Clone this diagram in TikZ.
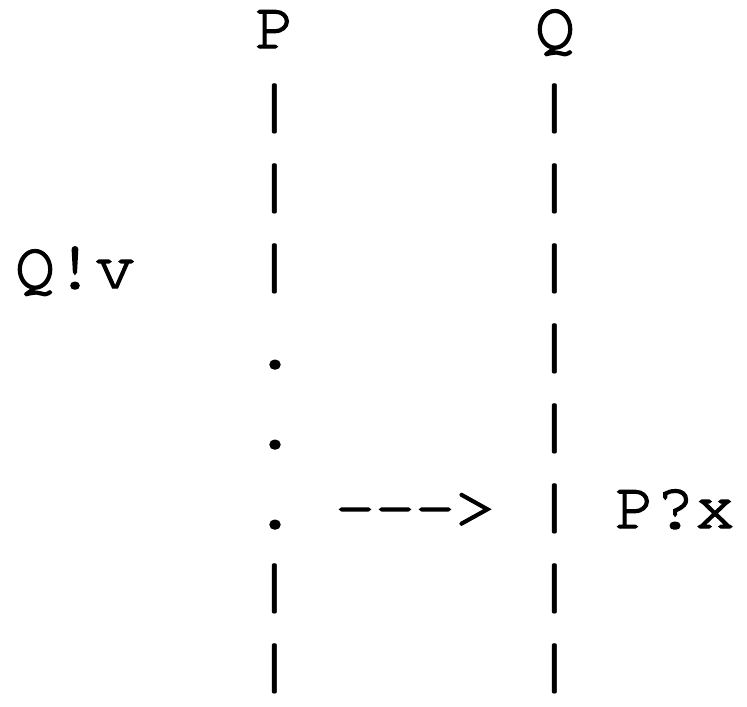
\documentclass[tikz,border=0pt]{standalone}
\usepackage[T1]{fontenc}
\usepackage{courier}
\usepackage{graphicx}
\usepackage{tikz}
\usetikzlibrary{positioning}
\newcommand{\heavy}{\special{pdf:literal 2 Tr 1.1 w}}
\newcommand{\tbar}{\scalebox{1.8}[1]{\resizebox*{!}{51pt}{\ttfamily|}}}
\tikzset{
  glyph/.style={font=\fontsize{50}{60}\selectfont\ttfamily\heavy, inner sep=0pt, outer sep=0pt, anchor=base},
  label west/.style={glyph, anchor=base west},
  tickbar/.style={inner sep=0pt, outer sep=0pt, anchor=center},
}

\begin{document}
\begin{tikzpicture}[x=0.75pt, y=-0.75pt]
\useasboundingbox (0,0) rectangle (747,707);

% Process names
\node[glyph] (P) at (275,48) {P};
\node[glyph] (Q) at (555,48) {Q};

% Time line of P
\foreach \r in {2,3,4,8,9}
  \node[tickbar] (p\r) at (275,{48+80*(\r-1)-19}) {\tbar};
\foreach \r in {5,6,7}
  \node[glyph] (p\r) at (275,{48+80*(\r-1)}) {.};

% Time line of Q
\foreach \r in {2,...,9}
  \node[tickbar] (q\r) at (555,{48+80*(\r-1)-19}) {\tbar};

% Send, message and receive
\node[label west] (send) at (15,288) {Q!v};
\node[label west] (msg) at (335,528) {-{}-{}->};
\node[label west] (recv) at (615,528) {P?x};
\end{tikzpicture}
\end{document}
